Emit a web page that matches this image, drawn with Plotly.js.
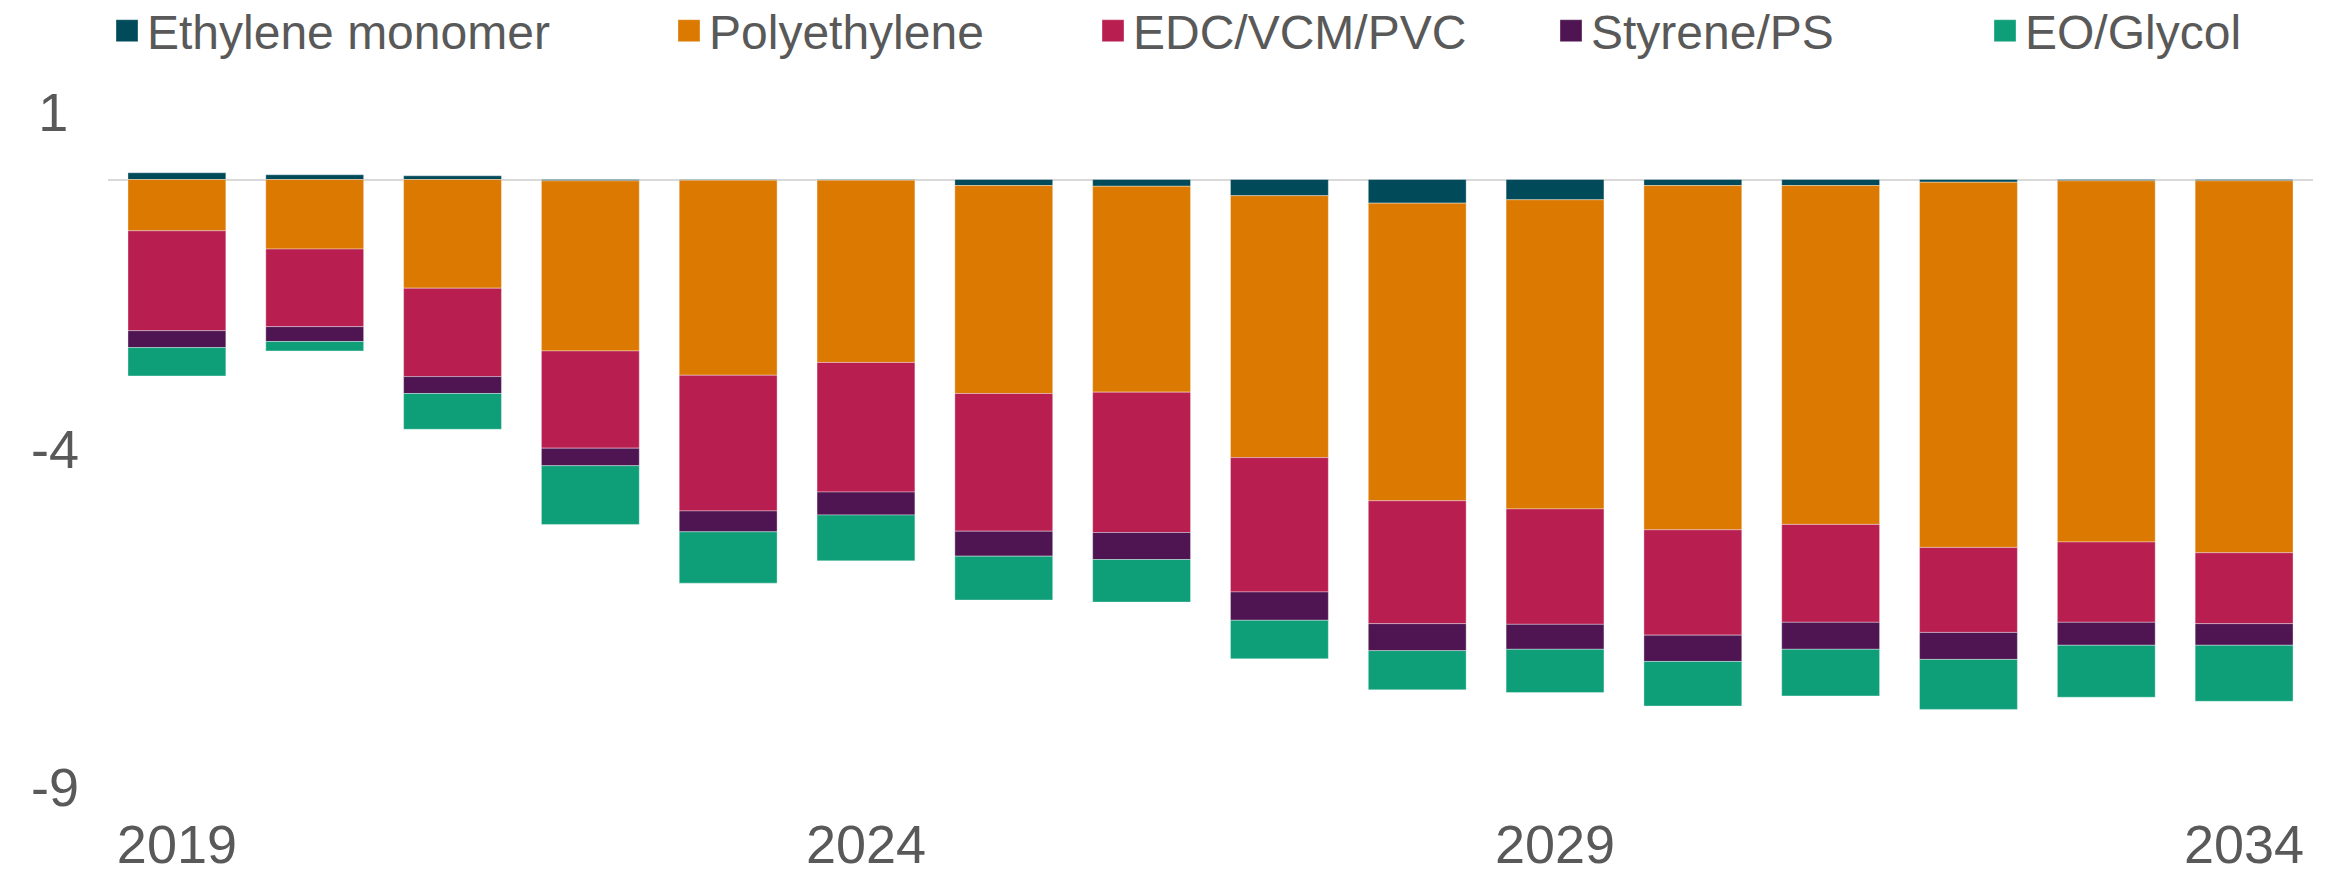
<!DOCTYPE html>
<html>
<head>
<meta charset="utf-8">
<script src="https://cdn.plot.ly/plotly-3.0.1.min.js"></script>
<style>html,body{margin:0;padding:0;background:#fff;}#chart{width:2331px;height:874px;}</style>
</head>
<body>
<div id="chart"></div>
<script>
const years = [2019, 2020, 2021, 2022, 2023, 2024, 2025, 2026, 2027, 2028, 2029, 2030, 2031, 2032, 2033, 2034];
const xTickYears = [2019, 2024, 2029, 2034];
const yTickValues = [1, -4, -9];
const yTickLabels = ['1\u2009', '-4', '-9'];

const seriesNames = ['Ethylene monomer', 'Polyethylene', 'EDC/VCM/PVC', 'Styrene/PS', 'EO/Glycol'];
const ethyleneMonomer = [0.10, 0.07, 0.055, -0.02, -0.01, -0.01, -0.09, -0.10, -0.24, -0.35, -0.30, -0.09, -0.09, -0.04, -0.02, -0.02];
const polyethylene   = [-0.76, -1.03, -1.61, -2.52, -2.89, -2.70, -3.08, -3.05, -3.88, -4.41, -4.58, -5.10, -5.02, -5.41, -5.35, -5.51];
const edcVcmPvc      = [-1.48, -1.15, -1.31, -1.44, -2.01, -1.92, -2.04, -2.08, -1.99, -1.82, -1.71, -1.56, -1.45, -1.26, -1.19, -1.05];
const styrenePs      = [-0.25, -0.22, -0.25, -0.26, -0.31, -0.34, -0.37, -0.40, -0.42, -0.40, -0.37, -0.39, -0.40, -0.40, -0.34, -0.32];
const eoGlycol       = [-0.42, -0.14, -0.53, -0.87, -0.76, -0.68, -0.65, -0.63, -0.57, -0.58, -0.64, -0.66, -0.69, -0.74, -0.77, -0.83];

const seriesValues = [ethyleneMonomer, polyethylene, edcVcmPvc, styrenePs, eoGlycol];
const colors = ['#004a5a', '#dc7900', '#b81f50', '#4f1552', '#0e9e78'];
const legendIds = ['legend', 'legend2', 'legend3', 'legend4', 'legend5'];
const legendX = [107, 669, 1093, 1551, 1985];

const FONT = '"Liberation Sans", Arial, sans-serif';
const GREY = '#595959';

const traces = seriesNames.map((name, i) => ({
  type: 'bar',
  name: name,
  x: years,
  y: seriesValues[i],
  legend: legendIds[i],
  marker: { color: colors[i], line: { color: 'rgba(255,255,255,0.35)', width: 1 } },
  hoverinfo: 'skip'
}));

const layout = {
  width: 2331,
  height: 874,
  paper_bgcolor: '#ffffff',
  plot_bgcolor: '#ffffff',
  barmode: 'relative',
  bargap: 0.29,
  margin: { l: 108, r: 18, t: 112, b: 87, pad: 0 },
  font: { family: FONT, color: GREY, size: 48 },
  xaxis: {
    range: [2018.5, 2034.5],
    tickmode: 'array',
    tickvals: xTickYears,
    ticktext: xTickYears.map(String),
    showgrid: false, zeroline: false, showline: false, ticks: '',
    tickfont: { family: FONT, size: 54, color: GREY },
    ticklabelstandoff: 21,
    fixedrange: true
  },
  yaxis: {
    range: [-9, 1],
    tickmode: 'array',
    tickvals: yTickValues,
    ticktext: yTickLabels,
    showgrid: false, showline: false, ticks: '',
    zeroline: true, zerolinecolor: '#d9d9d9', zerolinewidth: 2,
    tickfont: { family: FONT, size: 54, color: GREY },
    ticklabelstandoff: 28,
    fixedrange: true
  },
  showlegend: true
};

legendIds.forEach((id, i) => {
  layout[id] = {
    orientation: 'h',
    xref: 'container', yref: 'container',
    x: legendX[i] / 2331, xanchor: 'left',
    y: 1, yanchor: 'top',
    font: { family: FONT, size: 48, color: GREY },
    bgcolor: 'rgba(0,0,0,0)',
    borderwidth: 0,
    itemclick: false, itemdoubleclick: false
  };
});

Plotly.newPlot('chart', traces, layout, { displayModeBar: false, staticPlot: true }).then(gd => {
  // enlarge legend swatches and lift legend rows slightly to match the reference
  gd.querySelectorAll('.legendpoints path').forEach(p => p.setAttribute('d', 'M11,11H-11V-11H11Z'));
  legendIds.forEach(id => {
    gd.querySelectorAll('g.' + id).forEach(g => {
      const t = g.getAttribute('transform') || '';
      const m = t.match(/translate\(\s*([-\d.]+)[ ,]+([-\d.]+)\s*\)/);
      if (m) g.setAttribute('transform', 'translate(' + m[1] + ',' + (parseFloat(m[2]) - 7) + ')');
    });
  });
});
</script>
</body>
</html>
